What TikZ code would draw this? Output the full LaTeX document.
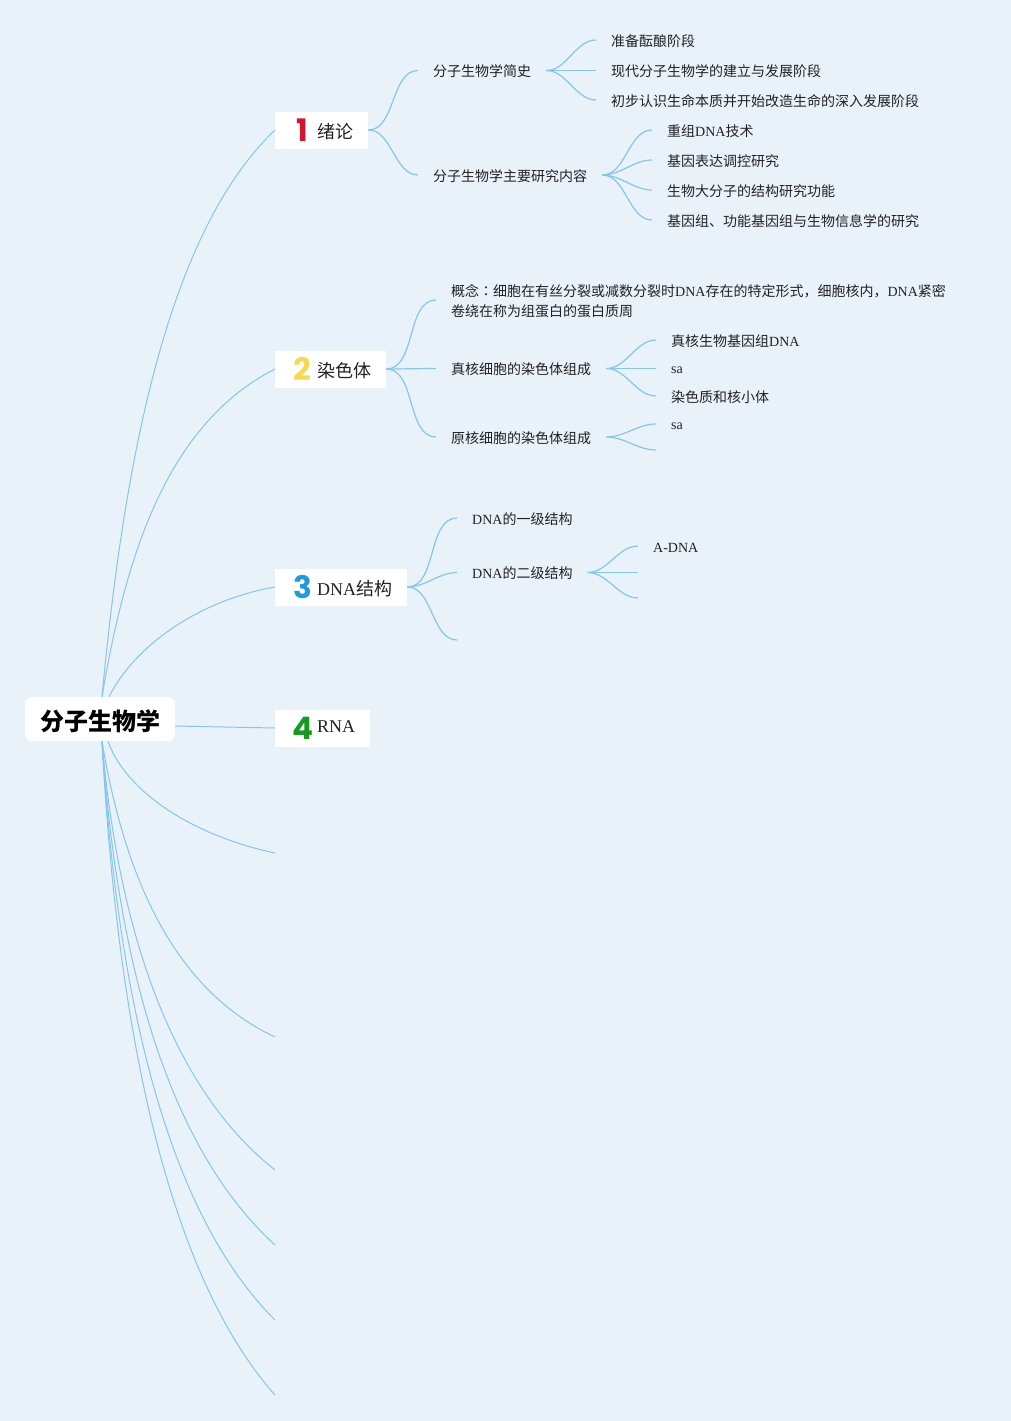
\documentclass[tikz,border=0pt]{standalone}
\usepackage{fontspec}
\setmainfont{Liberation Serif}
\newfontfamily\cjk{Noto Sans CJK SC}
\newfontfamily\cjktc{Noto Sans CJK TC}
\newfontfamily\numfont{Poppins}
\newcommand{\zh}[1]{{\cjk #1}}
\newcommand{\topicnum}[2]{\makebox[25pt][c]{\smash{\raisebox{-2.5pt}{\numfont\bfseries\fontsize{31}{31}\selectfont\color{#1}#2}}}\hspace{2pt}}
\definecolor{pagebg}{HTML}{E9F1F9}
\definecolor{branchblue}{HTML}{86C6EA}
\definecolor{inkdark}{HTML}{222222}
\definecolor{numred}{HTML}{D7142F}
\definecolor{numyellow}{HTML}{F5D94E}
\definecolor{numblue}{HTML}{1C9BDD}
\definecolor{numgreen}{HTML}{159A1E}
\tikzset{
  leaf/.style={anchor=west,inner xsep=15pt,inner ysep=0pt,align=left,text=inkdark,text height=13pt,text depth=0.4pt,font=\fontsize{14}{20}\selectfont},
  shortleaf/.style={leaf,text height=10pt,text depth=0pt},
  twoline/.style={leaf,text height=33pt},
  topic/.style={anchor=west,fill=white,text=inkdark,inner xsep=15pt,inner ysep=0pt,minimum height=37pt,text height=18pt,text depth=0.4pt,font=\fontsize{18}{20}\selectfont},
  rootbox/.style={fill=white,rounded corners=7pt,minimum width=150pt,minimum height=44pt,inner sep=0pt,text height=22pt,text depth=0pt,font=\fontsize{24}{26}\selectfont\bfseries},
  branch/.style={draw=branchblue,line width=1pt},
  twig/.style={branch,line width=1.2pt},
}
\begin{document}
\begin{tikzpicture}[x=1pt,y=-1pt]
\useasboundingbox (0,0) rectangle (1011,1421);
\fill[pagebg] (0,0) rectangle (1011,1421);

\node[rootbox] (root) at (100,719) {\zh{分子生物学}};

\node[topic] (intro) at (275,130) {\topicnum{numred}{1}\zh{绪论}};
\node[topic] (chromo) at (275,369) {\topicnum{numyellow}{2}\zh{染色体}};
\node[topic] (dna) at (275,587) {\topicnum{numblue}{3}DNA\zh{结构}};
\node[topic] (rna) at (275,728) {\topicnum{numgreen}{4}\raisebox{4.5pt}{RNA}};
\coordinate (blanka) at (275,853);
\coordinate (blankb) at (275,1037);
\coordinate (blankc) at (275,1170);
\coordinate (blankd) at (275,1245);
\coordinate (blanke) at (275,1320);
\coordinate (blankf) at (275,1395);

\node[leaf] (history) at (418,70.5) {\zh{分子生物学简史}};
\node[leaf] (content) at (418,175) {\zh{分子生物学主要研究内容}};
\node[leaf] (hista) at (596,40) {\zh{准备酝酿阶段}};
\node[leaf] (histb) at (596,70.5) {\zh{现代分子生物学的建立与发展阶段}};
\node[leaf] (histc) at (596,100) {\zh{初步认识生命本质并开始改造生命的深入发展阶段}};
\node[leaf] (conta) at (652,130) {\zh{重组}DNA\zh{技术}};
\node[leaf] (contb) at (652,160) {\zh{基因表达调控研究}};
\node[leaf] (contc) at (652,190) {\zh{生物大分子的结构研究功能}};
\node[leaf] (contd) at (652,220) {\zh{基因组、功能基因组与生物信息学的研究}};

\node[twoline] (concept) at (436,300) {\zh{概念}{\cjktc ：}\zh{细胞在有丝分裂或减数分裂时}DNA\zh{存在的特定形式，细胞核内，}DNA\zh{紧密}\\\zh{卷绕在称为组蛋白的蛋白质周}};
\node[leaf] (euk) at (436,368.5) {\zh{真核细胞的染色体组成}};
\node[leaf] (prok) at (436,437) {\zh{原核细胞的染色体组成}};
\node[leaf] (euka) at (656,340) {\zh{真核生物基因组}DNA};
\node[shortleaf] (eukb) at (656,368.5) {sa};
\node[leaf] (eukc) at (656,396) {\zh{染色质和核小体}};
\node[shortleaf] (proka) at (656,424) {sa};
\coordinate (prokb) at (656,450);

\node[leaf] (primary) at (457,518) {DNA\zh{的一级结构}};
\node[leaf] (secondary) at (457,572.5) {DNA\zh{的二级结构}};
\coordinate (tertiary) at (457,640);
\node[leaf] (adna) at (638,546) {A-DNA};
\coordinate (bdna) at (638,572.5);
\coordinate (zdna) at (638,598);

\foreach \from/\to in {intro/history,intro/content,history/hista,history/histb,history/histc,
  content/conta,content/contb,content/contc,content/contd,
  chromo/concept,chromo/euk,chromo/prok,euk/euka,euk/eukb,euk/eukc,prok/proka,prok/prokb,
  dna/primary,dna/secondary,dna/tertiary,secondary/adna,secondary/bdna,secondary/zdna}
  \draw[twig] (\from.east) to[out=0,in=180,looseness=0.9] (\to.west);

\draw[branch] (root.north) ++(2,0) .. controls (125,450) and (170,230) .. (intro.west);
\draw[branch] (root.north) ++(2,0) .. controls (125,560) and (165,425) .. (chromo.west);
\draw[branch] (root.north) ++(9,0) .. controls (135,645) and (200,600) .. (dna.west);
\draw[branch] (root.east) ++(0,7) -- (rna.west);
\draw[branch] (root.south) ++(8,0) .. controls (125,790) and (190,835) .. (blanka);
\draw[branch] (root.south) ++(2,0) .. controls (125,880) and (175,990) .. (blankb);
\draw[branch] (root.south) ++(2,0) .. controls (120,950) and (180,1095) .. (blankc);
\draw[branch] (root.south) ++(2,0) .. controls (120,1000) and (182,1160) .. (blankd);
\draw[branch] (root.south) ++(2,0) .. controls (120,1040) and (180,1225) .. (blanke);
\draw[branch] (root.south) ++(2,0) .. controls (120,1080) and (182,1290) .. (blankf);
\end{tikzpicture}
\end{document}
